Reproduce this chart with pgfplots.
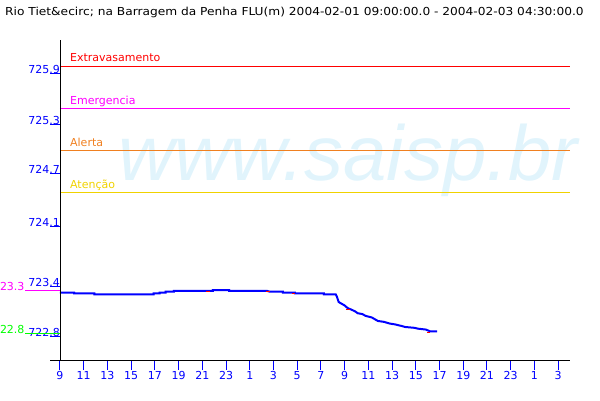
\documentclass[border=0pt]{standalone}
\usepackage{pgfplots}
\pgfplotsset{compat=1.18}
\usepackage{fontspec}
\setmainfont{DejaVu Sans}
\newfontfamily\titlefont[FakeStretch=1.11]{DejaVu Sans}
\newfontfamily\wmfont{Liberation Sans}
\definecolor{wm}{RGB}{225,244,252}
\definecolor{alertc}{RGB}{240,128,32}
\definecolor{atenc}{RGB}{240,210,0}
\definecolor{lblue}{RGB}{0,0,255}
\definecolor{lgreen}{RGB}{0,255,0}
\definecolor{lmag}{RGB}{255,0,255}
\begin{document}
\begin{tikzpicture}
\path[use as bounding box] (0pt,0pt) rectangle (600pt,-400pt);
\node[anchor=base west, inner sep=0pt, text=wm, font=\wmfont\itshape\fontsize{78}{80}\selectfont] at (118pt,-180pt) {www.saisp.br};
\node[anchor=base west, inner sep=0pt, font=\titlefont\fontsize{11}{13}\selectfont] at (5pt,-15pt) {Rio Tiet\&ecirc; na Barragem da Penha FLU(m) 2004-02-01 09:00:00.0 - 2004-02-03 04:30:00.0};
\begin{axis}[
  at={(60pt,-360pt)}, anchor=south west, scale only axis,
  width=510pt, height=320pt,
  xmin=0, xmax=43, ymin=722.486, ymax=726.207,
  axis line style={draw=none},
  clip=false,
  tick pos=left, tick align=outside, major tick length=10pt,
  tick style={color=lblue, line width=1pt},
  xtick={0,2,...,42},
  xticklabels={9,11,13,15,17,19,21,23,1,3,5,7,9,11,13,15,17,19,21,23,1,3},
  ytick={722.765,723.341,724.044,724.649,725.230,725.812},
  yticklabels={722.8,723.4,724.1,724.7,725.3,725.9},
  ticklabel style={text=lblue, font=\fontsize{11}{13}\selectfont, inner sep=0pt},
  yticklabel style={anchor=base east, xshift=10pt},
  xticklabel style={anchor=north, yshift=-1pt},
]
% threshold lines
\addplot[red, line width=1pt] coordinates {(0,725.9)(43,725.9)};
\addplot[lmag, line width=1pt] coordinates {(0,725.41)(43,725.41)};
\addplot[alertc, line width=1pt] coordinates {(0,724.92)(43,724.92)};
\addplot[atenc, line width=1pt] coordinates {(0,724.43)(43,724.43)};
\node[anchor=base west, inner sep=0pt, text=red, yshift=4.5pt, font=\fontsize{11}{13}\selectfont] at (axis cs:0.84,725.9) {Extravasamento};
\node[anchor=base west, inner sep=0pt, text=lmag, yshift=4.5pt, font=\fontsize{11}{13}\selectfont] at (axis cs:0.84,725.41) {Emergencia};
\node[anchor=base west, inner sep=0pt, text=alertc, yshift=4.5pt, font=\fontsize{11}{13}\selectfont] at (axis cs:0.84,724.92) {Alerta};
\node[anchor=base west, inner sep=0pt, text=atenc, yshift=4.5pt, font=\fontsize{11}{13}\selectfont] at (axis cs:0.84,724.43) {Atenção};
% max / min markers
\draw[lmag, line width=1pt] (axis cs:0,723.3) -- ++(-35pt,0pt) node[anchor=base east, inner sep=0pt, text=lmag, font=\fontsize{11}{13}\selectfont] {723.3};
\draw[lgreen, line width=1pt] (axis cs:0,722.8) -- ++(-35pt,0pt) node[anchor=base east, inner sep=0pt, text=lgreen, font=\fontsize{11}{13}\selectfont] {722.8};
% data
\addplot[lblue, line width=2pt] coordinates {
(0,723.27)(1.2,723.27)(1.2,723.26)(2.9,723.26)(2.9,723.25)(7.9,723.25)
(7.9,723.26)(8.4,723.26)(8.4,723.27)(8.9,723.27)(8.9,723.28)(9.6,723.28)
(9.6,723.29)(12.9,723.29)(12.9,723.30)(14.25,723.30)(14.25,723.29)(17.45,723.29)
(17.7,723.28)(18.8,723.28)(18.8,723.27)(19.8,723.27)(19.8,723.26)(22.25,723.26)
(22.25,723.25)(23.25,723.25)(23.35,723.22)(23.5,723.16)(23.75,723.14)(24.0,723.12)
(24.25,723.09)(24.6,723.07)(24.9,723.05)(25.1,723.03)(25.5,723.02)(25.75,723.00)
(26.3,722.98)(26.55,722.96)(26.8,722.94)(27.3,722.93)(27.8,722.91)(28.25,722.90)
(28.85,722.88)(29.1,722.87)(29.9,722.86)(30.2,722.85)(30.85,722.84)(31.2,722.82)(31.8,722.82)};
% small red marks on the series
\addplot[red, line width=1.2pt] coordinates {(12.31,723.283)(12.65,723.283)};
\addplot[red, line width=1.2pt] coordinates {(17.37,723.283)(17.71,723.283)};
\addplot[red, line width=1.2pt] coordinates {(19.56,723.262)(19.81,723.262)};
\addplot[red, line width=1.2pt] coordinates {(24.11,723.071)(24.45,723.071)};
\addplot[red, line width=1.2pt] coordinates {(30.94,722.808)(31.2,722.808)};
\end{axis}
\draw[black, line width=1pt] (50pt,-360pt) -- (570pt,-360pt);
\draw[black, line width=1pt] (60pt,-40pt) -- (60pt,-360pt);
\end{tikzpicture}
\end{document}
